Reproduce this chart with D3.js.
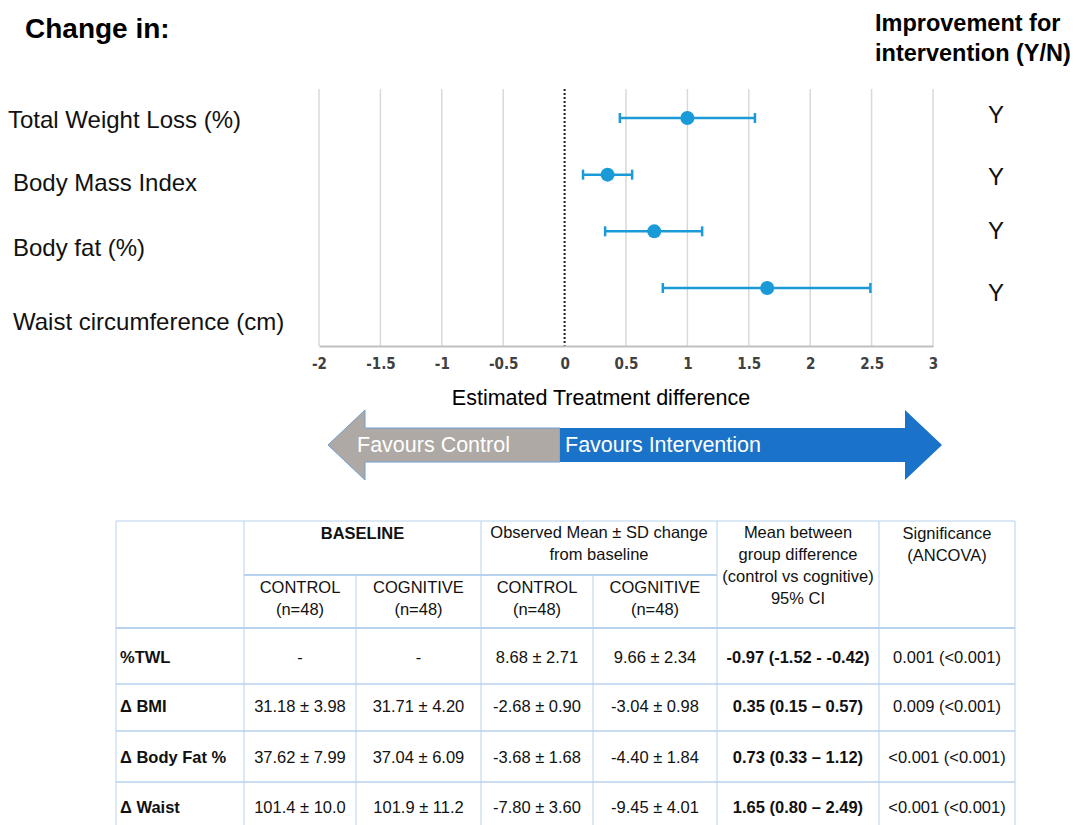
<!DOCTYPE html>
<html>
<head>
<meta charset="utf-8">
<script src="https://cdn.jsdelivr.net/npm/d3@7"></script>
<style>
  body { margin: 0; background: #fff; }
  svg { display: block; font-family: "Liberation Sans", Arial, sans-serif; }
</style>
</head>
<body>
<svg id="chart" width="1078" height="825"></svg>
<script>
// forest plot data
var outcomes = ['Total Weight Loss (%)', 'Body Mass Index', 'Body fat (%)', 'Waist circumference (cm)'];
var estimate = [1.0, 0.35, 0.73, 1.65];
var ciLow = [0.45, 0.15, 0.33, 0.80];
var ciHigh = [1.55, 0.55, 1.12, 2.49];
var improved = ['Y', 'Y', 'Y', 'Y'];
var xTicks = [-2, -1.5, -1, -0.5, 0, 0.5, 1, 1.5, 2, 2.5, 3];

// table data
var rowNames = ['%TWL', '\u0394 BMI', '\u0394 Body Fat %', '\u0394 Waist'];
var baseControl = ['-', '31.18 \u00b1 3.98', '37.62 \u00b1 7.99', '101.4 \u00b1 10.0'];
var baseCognitive = ['-', '31.71 \u00b1 4.20', '37.04 \u00b1 6.09', '101.9 \u00b1 11.2'];
var chgControl = ['8.68 \u00b1 2.71', '-2.68 \u00b1 0.90', '-3.68 \u00b1 1.68', '-7.80 \u00b1 3.60'];
var chgCognitive = ['9.66 \u00b1 2.34', '-3.04 \u00b1 0.98', '-4.40 \u00b1 1.84', '-9.45 \u00b1 4.01'];
var groupDiff = ['-0.97 (-1.52 - -0.42)', '0.35 (0.15 \u2013 0.57)', '0.73 (0.33 \u2013 1.12)', '1.65 (0.80 \u2013 2.49)'];
var signif = ['0.001 (<0.001)', '0.009 (<0.001)', '<0.001 (<0.001)', '<0.001 (<0.001)'];

var svg = d3.select('#chart');
var blue = '#1b9ad8';

// ---- titles
svg.append('text').attr('x', 25).attr('y', 38)
  .attr('font-size', 28).attr('font-weight', 'bold').text('Change in:');
svg.append('text').attr('x', 875).attr('y', 31)
  .attr('font-size', 23.5).attr('font-weight', 'bold').text('Improvement for');
svg.append('text').attr('x', 875).attr('y', 61)
  .attr('font-size', 23.5).attr('font-weight', 'bold').text('intervention (Y/N)');

// ---- forest plot
var x = d3.scaleLinear().domain([-2, 3]).range([319, 933]);
var y = d3.scalePoint().domain(outcomes).range([118, 288]);
var plotTop = 89, plotBottom = 346;

svg.append('g').selectAll('line').data(xTicks.filter(function (t) { return t !== 0; }))
  .enter().append('line')
  .attr('x1', function (d) { return x(d); }).attr('x2', function (d) { return x(d); })
  .attr('y1', plotTop).attr('y2', plotBottom)
  .attr('stroke', '#d9d9d9').attr('stroke-width', 1.5);

svg.append('line')
  .attr('x1', x(0)).attr('x2', x(0)).attr('y1', plotTop).attr('y2', plotBottom)
  .attr('stroke', '#222').attr('stroke-width', 2).attr('stroke-dasharray', '2,2');

var xAxis = svg.append('g').attr('transform', 'translate(0,' + plotBottom + ')')
  .call(d3.axisBottom(x).tickValues(xTicks).tickSize(0).tickPadding(12)
    .tickFormat(function (d) { return String(d); }));
xAxis.select('.domain').attr('stroke', '#bfbfbf').attr('stroke-width', 2);
xAxis.selectAll('text').attr('font-size', 15).attr('font-weight', 'bold')
  .attr('fill', '#404040').attr('font-family', '"DejaVu Sans Condensed", "Liberation Sans Narrow", sans-serif');

svg.append('text').attr('x', 601).attr('y', 405).attr('text-anchor', 'middle')
  .attr('font-size', 21.5).text('Estimated Treatment difference');

var rows = svg.append('g').selectAll('g').data(outcomes).enter().append('g');
rows.append('line')
  .attr('x1', function (d, i) { return x(ciLow[i]); })
  .attr('x2', function (d, i) { return x(ciHigh[i]); })
  .attr('y1', function (d) { return y(d); }).attr('y2', function (d) { return y(d); })
  .attr('stroke', blue).attr('stroke-width', 2.5);
[ciLow, ciHigh].forEach(function (arr) {
  rows.append('line')
    .attr('x1', function (d, i) { return x(arr[i]); })
    .attr('x2', function (d, i) { return x(arr[i]); })
    .attr('y1', function (d) { return y(d) - 5; }).attr('y2', function (d) { return y(d) + 5; })
    .attr('stroke', blue).attr('stroke-width', 2.5);
});
rows.append('circle')
  .attr('cx', function (d, i) { return x(estimate[i]); })
  .attr('cy', function (d) { return y(d); })
  .attr('r', 7).attr('fill', blue);

// outcome labels (left) and Y/N (right)
var labelY = d3.scalePoint().domain(outcomes).range([128, 330]);
var labelShift = [0, -4, -7, 0];
var labelX = [8, 13, 13, 13];
svg.append('g').selectAll('text').data(outcomes).enter().append('text')
  .attr('x', function (d, i) { return labelX[i]; })
  .attr('y', function (d, i) { return labelY(d) + labelShift[i]; })
  .attr('font-size', 24).attr('fill', '#111').text(function (d) { return d; });

var ynY = d3.scalePoint().domain(outcomes).range([123, 301]);
var ynShift = [0, 3, -3, 0];
svg.append('g').selectAll('text').data(outcomes).enter().append('text')
  .attr('x', 996).attr('y', function (d, i) { return ynY(d) + ynShift[i]; })
  .attr('text-anchor', 'middle').attr('font-size', 24).attr('fill', '#111')
  .text(function (d, i) { return improved[i]; });

// ---- double arrow
var ay = 445, half = 17, headHalf = 35;
var split = 560, leftTip = 328, rightTip = 942, headLen = 37;
svg.append('path')
  .attr('d', 'M' + leftTip + ',' + ay + 'L' + (leftTip + headLen) + ',' + (ay - headHalf) +
    'L' + (leftTip + headLen) + ',' + (ay - half) + 'L' + split + ',' + (ay - half) +
    'L' + split + ',' + (ay + half) + 'L' + (leftTip + headLen) + ',' + (ay + half) +
    'L' + (leftTip + headLen) + ',' + (ay + headHalf) + 'Z')
  .attr('fill', '#aea9a5').attr('stroke', '#6f9fd0').attr('stroke-width', 1);
svg.append('path')
  .attr('d', 'M' + rightTip + ',' + ay + 'L' + (rightTip - headLen) + ',' + (ay - headHalf) +
    'L' + (rightTip - headLen) + ',' + (ay - half) + 'L' + split + ',' + (ay - half) +
    'L' + split + ',' + (ay + half) + 'L' + (rightTip - headLen) + ',' + (ay + half) +
    'L' + (rightTip - headLen) + ',' + (ay + headHalf) + 'Z')
  .attr('fill', '#1a73c8');
svg.append('text').attr('x', 357).attr('y', 452).attr('font-size', 21.5)
  .attr('fill', '#fff').text('Favours Control');
svg.append('text').attr('x', 565).attr('y', 452).attr('font-size', 21.5)
  .attr('fill', '#fff').text('Favours Intervention');

// ---- table
var colX = [116, 244, 356, 481, 593, 717, 879, 1015];
var rowY = [521, 575, 628, 684, 731, 782, 832];
var grid = '#b7d2ec';
var tbl = svg.append('g').attr('font-size', 16.5).attr('fill', '#111');

function hline(yy, x1, x2, w) {
  tbl.append('line').attr('x1', x1).attr('x2', x2).attr('y1', yy).attr('y2', yy)
    .attr('stroke', grid).attr('stroke-width', w || 1);
}
function vline(xx, y1, y2) {
  tbl.append('line').attr('x1', xx).attr('x2', xx).attr('y1', y1).attr('y2', y2)
    .attr('stroke', grid).attr('stroke-width', 1);
}
hline(rowY[0], colX[0], colX[7]);
hline(rowY[1], colX[1], colX[5], 2);
hline(rowY[2], colX[0], colX[7], 2);
hline(rowY[3], colX[0], colX[7], 1.5);
hline(rowY[4], colX[0], colX[7], 1.5);
hline(rowY[5], colX[0], colX[7], 1.5);
[0, 1, 3, 5, 6, 7].forEach(function (i) { vline(colX[i], rowY[0], rowY[6]); });
[2, 4].forEach(function (i) { vline(colX[i], rowY[1], rowY[6]); });

function cellText(cx, ty, str, bold, anchor) {
  tbl.append('text').attr('x', cx).attr('y', ty)
    .attr('text-anchor', anchor || 'middle')
    .attr('font-weight', bold ? 'bold' : 'normal').text(str);
}
function mid(a, b) { return (colX[a] + colX[b]) / 2; }

cellText(mid(1, 3), 539, 'BASELINE', true);
cellText(mid(3, 5), 538, 'Observed Mean \u00b1 SD change');
cellText(mid(3, 5), 560, 'from baseline');
cellText(mid(5, 6), 538, 'Mean between');
cellText(mid(5, 6), 560, 'group difference');
cellText(mid(5, 6), 582, '(control vs cognitive)');
cellText(mid(5, 6), 604, '95% CI');
cellText(mid(6, 7), 539, 'Significance');
cellText(mid(6, 7), 561, '(ANCOVA)');
var subHeads = ['CONTROL', 'COGNITIVE', 'CONTROL', 'COGNITIVE'];
subHeads.forEach(function (h, i) {
  cellText(mid(i + 1, i + 2), 593, h);
  cellText(mid(i + 1, i + 2), 615, '(n=48)');
});

var bodyY = [663, 712, 763, 813];
var cols = [baseControl, baseCognitive, chgControl, chgCognitive, groupDiff, signif];
rowNames.forEach(function (name, r) {
  cellText(colX[0] + 4, bodyY[r], name, true, 'start');
  cols.forEach(function (col, c) {
    cellText(mid(c + 1, c + 2), bodyY[r], col[r], c === 4);
  });
});
</script>
</body>
</html>
